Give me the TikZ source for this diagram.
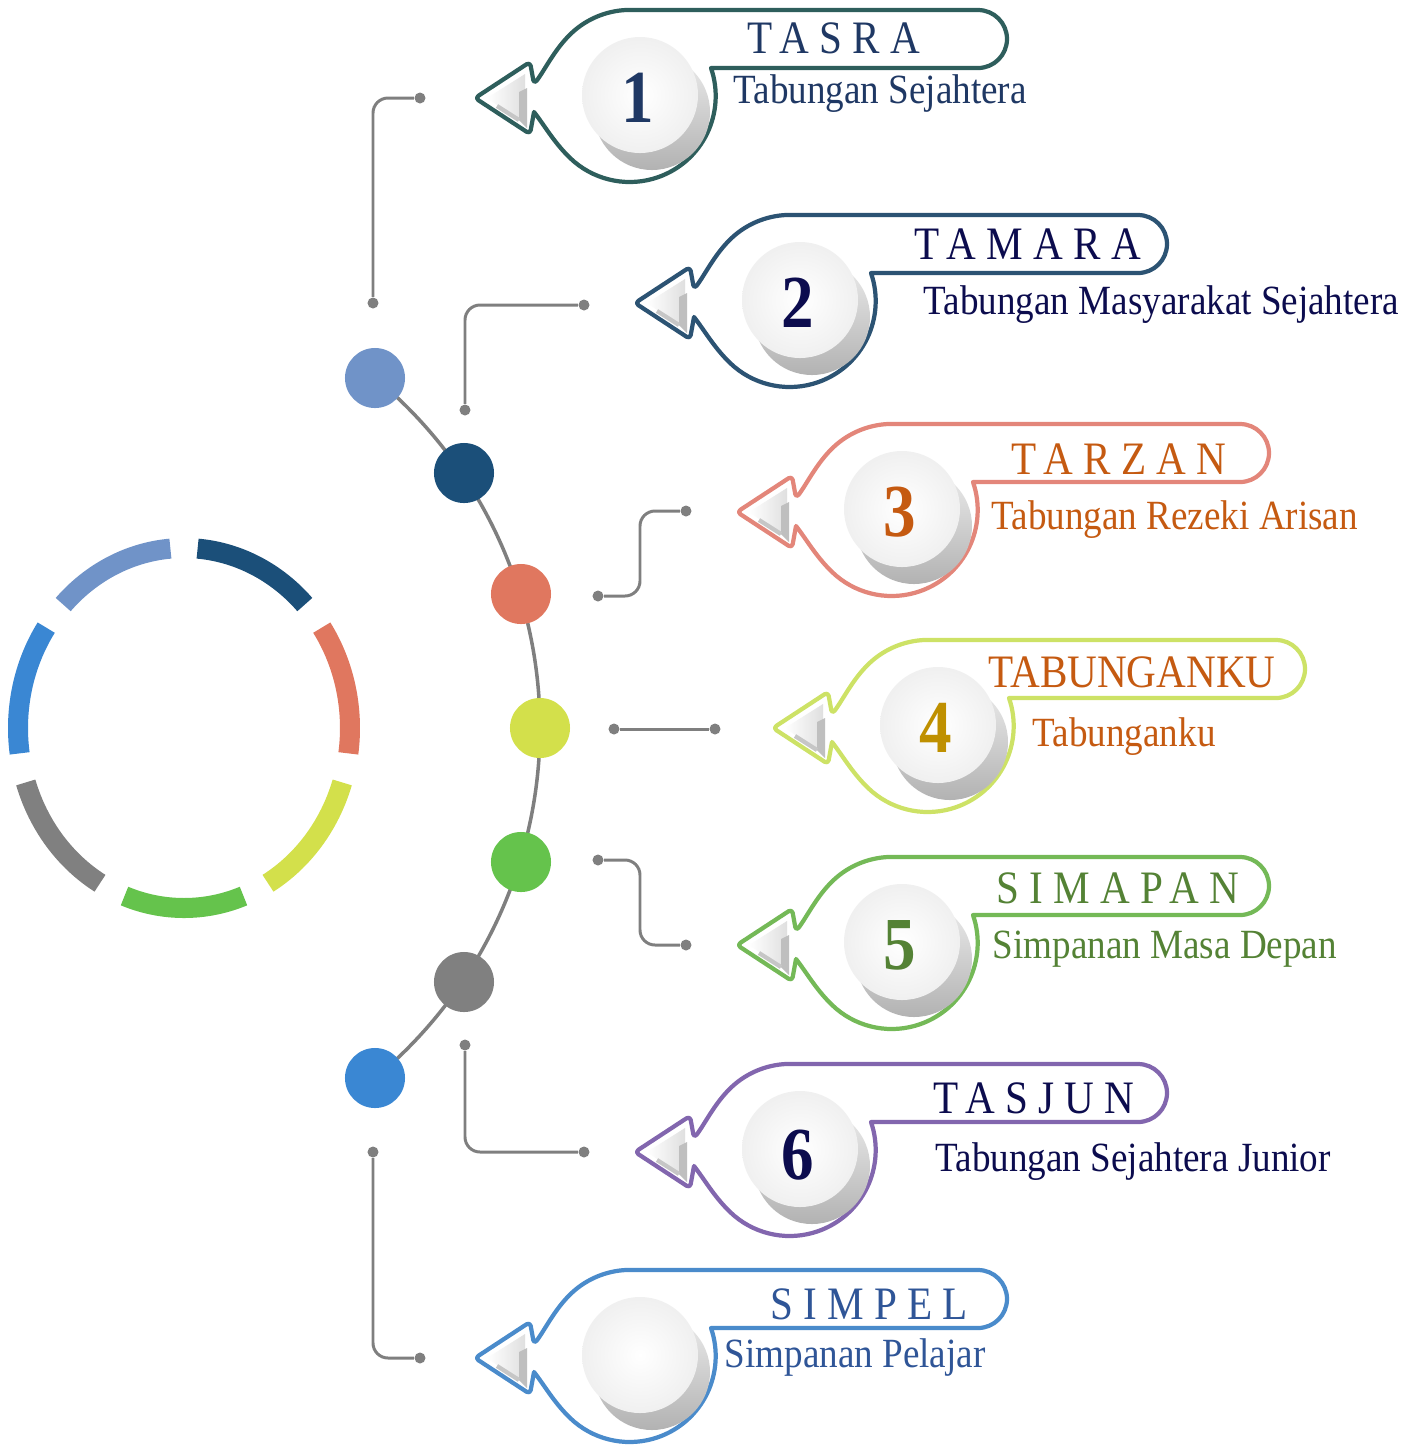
\documentclass[tikz,border=0pt]{standalone}
\usepackage{fontspec}
\setmainfont{Liberation Serif}
\newfontfamily\spaced[LetterSpace=25]{Liberation Serif}
\usetikzlibrary{positioning}
\definecolor{dLight}{HTML}{7093C8}
\definecolor{dNavy}{HTML}{1B4F79}
\definecolor{dCoral}{HTML}{E0775F}
\definecolor{dLime}{HTML}{D3E04B}
\definecolor{dGreen}{HTML}{65C34C}
\definecolor{dGray}{HTML}{808080}
\definecolor{dBlue}{HTML}{3A87D3}
\definecolor{leadgray}{HTML}{7F7F7F}
\definecolor{oTeal}{HTML}{2E5E5C}
\definecolor{oSlate}{HTML}{2C5373}
\definecolor{oCoral}{HTML}{E3867A}
\definecolor{oLime}{HTML}{CDE266}
\definecolor{oGreen}{HTML}{74B957}
\definecolor{oPurple}{HTML}{8266AE}
\definecolor{oBlue}{HTML}{4A8BCB}
\definecolor{tNavy}{HTML}{1F3864}
\definecolor{tInk}{HTML}{0C0C4E}
\definecolor{tRust}{HTML}{C55A11}
\definecolor{tGold}{HTML}{BF9000}
\definecolor{tGreen}{HTML}{548235}
\definecolor{tBlue}{HTML}{2F5597}
\tikzset{
  spot/.style={circle,inner sep=0pt,minimum size=0.6cm},
  ldot/.style={circle,fill=leadgray,inner sep=0pt,minimum size=0.11cm},
  lead/.style={draw=leadgray,line width=0.85pt,rounded corners=0.15cm},
  spine/.style={draw=leadgray,line width=1pt},
  seg/.style={line width=0.2cm},
  ttl/.style={inner sep=0pt,yscale=1.13,font=\spaced\fontsize{11.7}{14}\selectfont},
  sub/.style={inner sep=0pt,anchor=base west,yscale=1.12,font=\fontsize{10.55}{12}\selectfont},
  num/.style={inner sep=0pt,yscale=1.15,font=\bfseries\fontsize{18.5}{22}\selectfont},
  pics/callout/.style={code={
    \path[draw=#1,line width=1.2pt,fill=white,line join=round] (0,0) [rounded corners=0.04cm] -- (55,-36) -- (59,-14) [sharp corners]
      .. controls (70,-28) and (81,-52) .. (100,-68) arc[start angle=-130,end angle=-90,radius=86]
      -- (503,-88) arc[start angle=-90,end angle=90,radius=29] -- (236,-30)
      arc[start angle=-19,end angle=130,radius=86] .. controls (81,48) and (70,28) .. (59,14)
      [rounded corners=0.04cm] -- (55,36) -- cycle;
    \shade[top color=gray!15,bottom color=gray!60] (177,14) circle[radius=58];
    \shade[inner color=white,outer color=gray!12] (165,-3) circle[radius=58];
    \shade[left color=white,right color=gray!25] (12,0) -- (50,-24) -- (50,26) -- cycle;
    \fill[gray!50] (44,-6) -- (52,-10) -- (52,30) -- (44,22) -- cycle;
    \draw[gray!45,line width=1.2pt] (22,8) -- (44,22);
  }}
}
\begin{document}
\begin{tikzpicture}[x=0.01cm,y=-0.01cm]
\useasboundingbox (0,0) rectangle (1421,1447);
% ring
\draw[seg,dGreen] (184,728) ++(69:166 and 180) arc[start angle=69,end angle=111,x radius=166,y radius=180];
\draw[seg,dLime] (184,728) ++(17.6:166 and 180) arc[start angle=17.6,end angle=59.6,x radius=166,y radius=180];
\draw[seg,dCoral] (184,728) ++(-33.9:166 and 180) arc[start angle=-33.9,end angle=8.1,x radius=166,y radius=180];
\draw[seg,dNavy] (184,728) ++(-85.3:166 and 180) arc[start angle=-85.3,end angle=-43.3,x radius=166,y radius=180];
\draw[seg,dLight] (184,728) ++(-136.7:166 and 180) arc[start angle=-136.7,end angle=-94.7,x radius=166,y radius=180];
\draw[seg,dBlue] (184,728) ++(-188.1:166 and 180) arc[start angle=-188.1,end angle=-146.1,x radius=166,y radius=180];
\draw[seg,dGray] (184,728) ++(120.4:166 and 180) arc[start angle=120.4,end angle=162.4,x radius=166,y radius=180];
% spine and dots
\coordinate (hub) at (86,728);
\draw[spine] (hub) ++(-50.45:454) arc[start angle=-50.45,end angle=50.45,radius=454];
\node[spot,fill=dLight] (d1) at (375,378) {};
\node[spot,fill=dNavy] (d2) at (464,473) {};
\node[spot,fill=dCoral] (d3) at (521,594) {};
\node[spot,fill=dLime] (d4) at (540,728) {};
\node[spot,fill=dGreen] (d5) at (521,862) {};
\node[spot,fill=dGray] (d6) at (464,982) {};
\node[spot,fill=dBlue] (d7) at (375,1078) {};
% leaders
\node[ldot] (a1) at (373,303) {}; \node[ldot] (b1) at (420,98) {}; \draw[lead] (a1) |- (b1);
\node[ldot] (a2) at (465,410) {}; \node[ldot] (b2) at (584,305) {}; \draw[lead] (a2) |- (b2);
\node[ldot] (a3) at (598,596) {}; \node[ldot] (b3) at (686,511) {}; \draw[lead] (a3) -- ++(42,0) |- (b3);
\node[ldot] (a4) at (614,729) {}; \node[ldot] (b4) at (715,729) {}; \draw[lead] (a4) -- (b4);
\node[ldot] (a5) at (598,860) {}; \node[ldot] (b5) at (686,945) {}; \draw[lead] (a5) -- ++(42,0) |- (b5);
\node[ldot] (a6) at (465,1045) {}; \node[ldot] (b6) at (584,1152) {}; \draw[lead] (a6) |- (b6);
\node[ldot] (a7) at (373,1152) {}; \node[ldot] (b7) at (420,1358) {}; \draw[lead] (a7) |- (b7);
% callouts
\pic (c1) at (475,98) {callout=oTeal};
\pic (c2) at (635,303) {callout=oSlate};
\pic (c3) at (737,512) {callout=oCoral};
\pic (c4) at (773,728) {callout=oLime};
\pic (c5) at (737,945) {callout=oGreen};
\pic (c6) at (635,1152) {callout=oPurple};
\pic (c7) at (475,1358) {callout=oBlue};
\node[num,tNavy] (n1) at (638,98) {1};
\node[num,tInk] (n2) at (798,303) {2};
\node[num,tRust] (n3) at (900,512) {3};
\node[num,tGold] (n4) at (936,728) {4};
\node[num,tGreen] (n5) at (900,945) {5};
\node[num,tInk] (n6) at (798,1155) {6};
\node[ttl,tNavy] (t1) at (834,38) {TASRA};
\node[ttl,tInk] (t2) at (1028,244) {TAMARA};
\node[ttl,tRust] (t3) at (1119,459) {TARZAN};
\node[ttl,tRust,font=\fontsize{11.7}{14}\selectfont] (t4) at (1132,672) {TABUNGANKU};
\node[ttl,tGreen] (t5) at (1118,888) {SIMAPAN};
\node[ttl,tInk] (t6) at (1034,1098) {TASJUN};
\node[ttl,tBlue] (t7) at (869,1304) {SIMPEL};
\node[sub,tNavy] (s1) at (733,103) {Tabungan Sejahtera};
\node[sub,tInk] (s2) at (923,314) {Tabungan Masyarakat Sejahtera};
\node[sub,tRust] (s3) at (991,529) {Tabungan Rezeki Arisan};
\node[sub,tRust] (s4) at (1032,746) {Tabunganku};
\node[sub,tGreen] (s5) at (992,958) {Simpanan Masa Depan};
\node[sub,tInk] (s6) at (935,1171) {Tabungan Sejahtera Junior};
\node[sub,tBlue] (s7) at (724,1367) {Simpanan Pelajar};
\end{tikzpicture}
\end{document}
